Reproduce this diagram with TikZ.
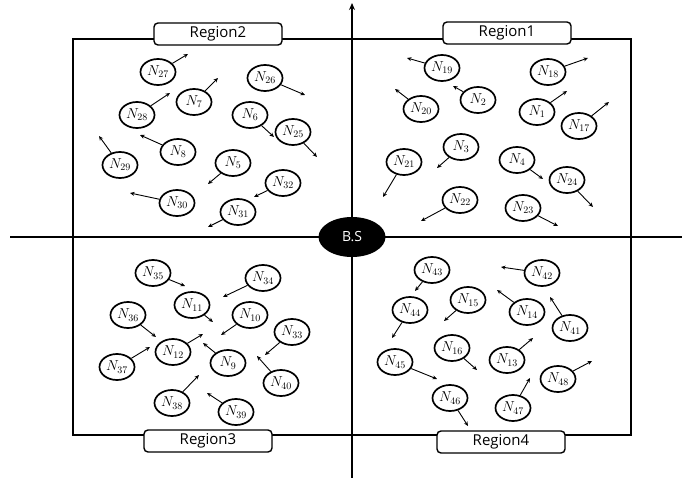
\documentclass[tikz,border=0pt]{standalone}
\usepackage{fontspec}
\setsansfont{Open Sans}
\usetikzlibrary{arrows.meta,shapes.geometric}
\begin{document}
\begin{tikzpicture}[x=1pt,y=-1pt,
  nd/.style={ellipse,draw,line width=1.7pt,minimum width=35pt,minimum height=26pt,inner sep=0pt,font=\fontsize{14}{16}\selectfont},
  mv/.style={-{Stealth[length=4.5pt,width=4pt]},line width=0.9pt},
  reg/.style={draw,line width=1.4pt,rounded corners=4pt,fill=white,minimum width=128pt,minimum height=22pt,inner sep=0pt,font=\sffamily\fontsize{15}{17}\selectfont},
  ax/.style={line width=1.4pt}]
\useasboundingbox (0,0) rectangle (682,478);
% frame
\draw[line width=1.3pt] (73,39) rectangle (631,435);
% axes
\coordinate (axT) at (352,3);
\coordinate (axB) at (352,478);
\coordinate (axL) at (10,237);
\coordinate (axR) at (682,237);
\draw[ax,-{Stealth[length=7pt,width=6pt]}] (axB) -- (axT);
\draw[ax] (axL) -- (axR);
\node[ellipse,fill=black,minimum width=67pt,minimum height=40pt,inner sep=0pt,text=white,font=\sffamily\fontsize{14}{16}\selectfont] (bs) at (352,237) {B.S};
% region labels
\node[reg] (r2) at (218,34) {Region2};
\node[reg] (r1) at (507,33) {Region1};
\node[reg] (r3) at (208,441) {Region3};
\node[reg] (r4) at (501,442) {Region4};
% nodes: name, center, arrow target
\foreach \n/\x/\y/\tx/\ty in {
  27/158/72/188/54, 7/194/102/218/78, 26/265/78/305/95, 28/137/115/170/93,
  6/250/115/274/137, 25/293/132/317/157, 8/178/152/140/135, 29/120/165/99/136,
  5/233/163/208/184, 32/283/183/254/197, 30/177/203/130/193, 31/238/212/208/227,
  19/442/68/407/58, 18/548/72/588/58, 2/478/100/453/86, 20/421/109/395/89,
  1/537/112/567/91, 17/579/126/609/102, 3/461/147/437/168, 21/404/162/383/197,
  4/517/160/543/179, 24/567/180/593/207, 22/460/200/421/221, 23/523/208/558/226,
  35/153/273/185/286, 34/263/278/223/297, 11/192/305/213/322, 36/128/315/156/337,
  10/250/315/221/335, 33/292/332/265/355, 12/173/352/203/334, 37/117/367/150/347,
  9/228/363/203/343, 40/281/383/257/356, 38/172/403/199/375, 39/236/412/207/393,
  43/432/270/415/291, 42/542/273/501/267, 15/468/300/444/321, 44/410/310/392/338,
  14/527/312/497/290, 41/570/328/550/297, 16/452/348/477/370, 13/507/360/533/338,
  45/395/362/437/379, 48/558/379/592/361, 46/450/398/468/426, 47/513/408/530/378}{
  \node[nd] (n\n) at (\x,\y) {$N_{\n}$};
  \coordinate (t\n) at (\tx,\ty);
  \draw[mv] (n\n) -- (t\n);
}
\end{tikzpicture}
\end{document}
